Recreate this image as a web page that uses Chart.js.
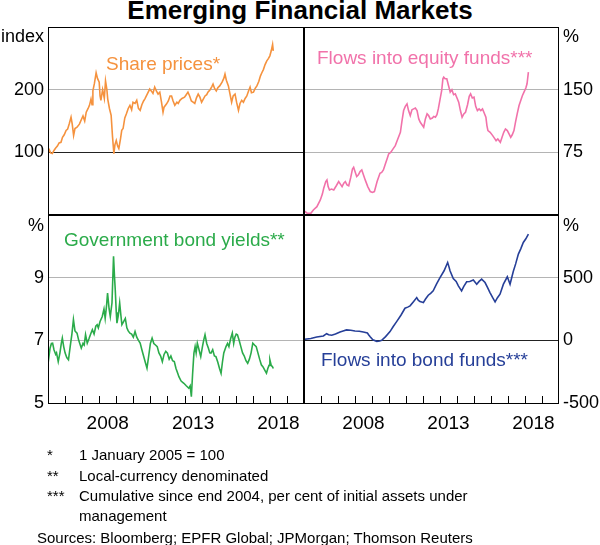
<!DOCTYPE html>
<html>
<head>
<meta charset="utf-8">
<title>Emerging Financial Markets</title>
<script src="https://cdn.jsdelivr.net/npm/chart.js@4.4.1/dist/chart.umd.min.js"></script>
<style>
  body { margin: 0; background: #fff; font-family: Arial, "Liberation Sans", sans-serif; }
  #wrap { position: relative; width: 600px; height: 545px; overflow: hidden; }
  #wrap canvas { position: absolute; left: 0; top: 0; }
  .txt { position: absolute; white-space: nowrap; line-height: 1; }
  .title { left: 0; width: 600px; text-align: center; top: -3px; font-size: 26px; font-weight: bold; }
  .unit { font-size: 18px; }
  .lab { font-size: 19px; }
  .note { font-size: 15px; }
</style>
</head>
<body>
<div id="wrap">
  <div class="txt title">Emerging Financial Markets</div>

  <canvas id="shares" width="600" height="545"></canvas>
  <canvas id="equity" width="600" height="545"></canvas>
  <canvas id="yields" width="600" height="545"></canvas>
  <canvas id="bonds" width="600" height="545"></canvas>

  <div class="txt unit" style="left:0;width:44px;text-align:right;top:27px">index</div>
  <div class="txt unit" style="left:563px;top:27px">%</div>
  <div class="txt unit" style="left:0;width:44px;text-align:right;top:216px">%</div>
  <div class="txt unit" style="left:563px;top:216px">%</div>

  <div class="txt lab" style="left:106px;top:54px;color:#f5923e">Share prices*</div>
  <div class="txt lab" style="left:317px;top:48px;color:#f172aa">Flows into equity funds***</div>
  <div class="txt lab" style="left:64px;top:230px;color:#2bab4a">Government bond yields**</div>
  <div class="txt lab" style="left:321px;top:350px;color:#263f98">Flows into bond funds***</div>

  <div class="txt note" style="left:47px;top:447px">*</div>
  <div class="txt note" style="left:79px;top:447px">1 January 2005 = 100</div>
  <div class="txt note" style="left:47px;top:468px">**</div>
  <div class="txt note" style="left:79px;top:468px">Local-currency denominated</div>
  <div class="txt note" style="left:47px;top:488px">***</div>
  <div class="txt note" style="left:79px;top:488px">Cumulative since end 2004, per cent of initial assets under</div>
  <div class="txt note" style="left:79px;top:508px">management</div>
  <div class="txt note" style="left:37px;top:530px">Sources: Bloomberg; EPFR Global; JPMorgan; Thomson Reuters</div>
</div>

<script>
// x axis: years, labels sit in the middle of the year
const xStart = 2005;
const xEnd = 2020;
const yearLabels = [2008, 2013, 2018];

// share prices, index (1 Jan 2005 = 100)
const shareYears = [2005.00, 2005.08, 2005.15, 2005.25, 2005.35, 2005.45, 2005.55, 2005.65, 2005.76, 2005.85,
  2005.95, 2006.06, 2006.15, 2006.25, 2006.35, 2006.42, 2006.50, 2006.58, 2006.70, 2006.84,
  2006.95, 2007.05, 2007.15, 2007.24, 2007.35, 2007.43, 2007.52, 2007.58, 2007.63, 2007.72,
  2007.82, 2007.90, 2008.00, 2008.05, 2008.10, 2008.20, 2008.30, 2008.37, 2008.45, 2008.50,
  2008.60, 2008.70, 2008.78, 2008.86, 2008.92, 2009.00, 2009.08, 2009.15, 2009.25, 2009.32,
  2009.40, 2009.50, 2009.60, 2009.70, 2009.80, 2009.90, 2009.98, 2010.10, 2010.20, 2010.30,
  2010.40, 2010.50, 2010.60, 2010.67, 2010.80, 2010.96, 2011.05, 2011.15, 2011.25, 2011.35,
  2011.45, 2011.55, 2011.65, 2011.74, 2011.80, 2011.94, 2012.05, 2012.15, 2012.24, 2012.33,
  2012.43, 2012.55, 2012.63, 2012.73, 2012.85, 2013.00, 2013.10, 2013.20, 2013.30, 2013.40,
  2013.50, 2013.60, 2013.70, 2013.80, 2013.90, 2014.00, 2014.10, 2014.20, 2014.30, 2014.37,
  2014.50, 2014.60, 2014.67, 2014.76, 2014.86, 2014.95, 2015.06, 2015.20, 2015.30, 2015.37,
  2015.45, 2015.57, 2015.65, 2015.76, 2015.85, 2015.96, 2016.05, 2016.16, 2016.25, 2016.35,
  2016.45, 2016.55, 2016.65, 2016.75, 2016.84, 2016.92, 2017.04, 2017.14, 2017.24, 2017.35,
  2017.45, 2017.53, 2017.62, 2017.72, 2017.82, 2017.92, 2018.00, 2018.08, 2018.16, 2018.20];
const shareIndex = [100, 104, 99, 98, 103, 107, 110, 115, 116, 124,
  128, 135, 137, 146, 156, 145, 127, 138, 140, 145,
  152, 158, 150, 164, 170, 175, 185, 176, 198, 210,
  227, 218, 212, 190, 183, 200, 186, 214, 200, 185,
  170, 159, 125, 98, 112, 119, 110, 106, 122, 135,
  138, 155, 162, 170, 175, 168, 180, 178, 183, 170,
  167, 176, 182, 185, 192, 201, 198, 194, 204, 198,
  193, 196, 180, 164, 172, 177, 182, 190, 190, 182,
  175, 180, 178, 183, 186, 188, 192, 196, 190, 182,
  180, 178, 187, 193, 188, 180, 185, 190, 192, 196,
  200, 205, 209, 202, 198, 203, 206, 212, 218, 225,
  215, 206, 195, 180, 190, 193, 180, 167, 178, 183,
  180, 186, 190, 198, 204, 195, 196, 202, 206, 213,
  222, 227, 232, 240, 246, 250, 254, 262, 272, 262];
const shareTicks = [100, 200];

// flows into equity funds, per cent
const equityYears = [2005.00, 2005.08, 2005.20, 2005.40, 2005.55, 2005.76, 2005.96, 2006.08, 2006.16, 2006.28,
  2006.35, 2006.42, 2006.50, 2006.62, 2006.75, 2006.90, 2007.04, 2007.14, 2007.24, 2007.34,
  2007.43, 2007.53, 2007.63, 2007.75, 2007.85, 2007.92, 2008.00, 2008.10, 2008.20, 2008.30,
  2008.40, 2008.50, 2008.60, 2008.75, 2008.90, 2009.02, 2009.14, 2009.30, 2009.47, 2009.57,
  2009.67, 2009.80, 2009.90, 2009.98, 2010.10, 2010.20, 2010.37, 2010.50, 2010.67, 2010.76,
  2010.86, 2010.96, 2011.06, 2011.15, 2011.25, 2011.35, 2011.45, 2011.55, 2011.65, 2011.75,
  2011.84, 2011.94, 2012.04, 2012.14, 2012.24, 2012.33, 2012.43, 2012.55, 2012.63, 2012.73,
  2012.82, 2012.90, 2013.00, 2013.10, 2013.17, 2013.22, 2013.30, 2013.40, 2013.50, 2013.60,
  2013.70, 2013.80, 2013.90, 2014.00, 2014.10, 2014.20, 2014.30, 2014.40, 2014.50, 2014.62,
  2014.72, 2014.80, 2014.90, 2015.00, 2015.10, 2015.20, 2015.30, 2015.40, 2015.50, 2015.60,
  2015.70, 2015.76, 2015.82, 2015.95, 2016.10, 2016.20, 2016.30, 2016.40, 2016.55, 2016.65,
  2016.75, 2016.85, 2016.96, 2017.06, 2017.16, 2017.25, 2017.35, 2017.45, 2017.55, 2017.65,
  2017.75, 2017.85, 2017.94, 2018.05, 2018.12, 2018.20];
const equityFlows = [3, 4, 2, 2, 6, 10, 18, 25, 32, 40,
  42, 34, 30, 31, 30, 35, 40, 37, 34, 38,
  40, 36, 35, 45, 55, 57, 52, 46, 48, 52,
  54, 48, 42, 34, 28, 27, 28, 40, 50, 51,
  54, 62, 68, 73, 75, 78, 83, 90, 99, 112,
  125, 130, 133, 125, 119, 126, 127, 128, 125, 115,
  111, 108, 105, 115, 121, 119, 115, 116, 118, 117,
  120, 127, 138, 149, 163, 165, 163, 163, 155, 147,
  150, 144, 145, 140, 135, 125, 117, 121, 123, 132,
  142, 145, 140, 141, 130, 125, 127, 125, 127, 122,
  117, 107, 101, 99, 95, 92, 89, 91, 87, 93,
  99, 103, 101, 97, 93, 96, 101, 112, 122, 131,
  137, 143, 147, 152, 157, 171];
const equityTicks = [75, 150];

// government bond yields, per cent
const yieldYears = [2005.00, 2005.06, 2005.12, 2005.20, 2005.27, 2005.35, 2005.45, 2005.50, 2005.60, 2005.70,
  2005.78, 2005.84, 2005.92, 2006.00, 2006.10, 2006.20, 2006.30, 2006.40, 2006.49, 2006.58,
  2006.70, 2006.80, 2006.95, 2007.05, 2007.12, 2007.20, 2007.30, 2007.40, 2007.50, 2007.60,
  2007.70, 2007.80, 2007.88, 2007.95, 2008.05, 2008.18, 2008.28, 2008.35, 2008.43, 2008.49,
  2008.58, 2008.65, 2008.75, 2008.84, 2008.90, 2008.94, 2009.00, 2009.04, 2009.12, 2009.20,
  2009.27, 2009.33, 2009.43, 2009.53, 2009.62, 2009.70, 2009.80, 2009.90, 2010.00, 2010.10,
  2010.20, 2010.30, 2010.40, 2010.50, 2010.60, 2010.70, 2010.80, 2010.90, 2011.00, 2011.10,
  2011.20, 2011.30, 2011.40, 2011.50, 2011.60, 2011.70, 2011.80, 2011.90, 2012.00, 2012.10,
  2012.20, 2012.30, 2012.40, 2012.50, 2012.60, 2012.67, 2012.80, 2012.96, 2013.10, 2013.25,
  2013.33, 2013.40, 2013.47, 2013.55, 2013.62, 2013.68, 2013.75, 2013.85, 2013.95, 2014.05,
  2014.12, 2014.20, 2014.30, 2014.40, 2014.48, 2014.55, 2014.65, 2014.75, 2014.84, 2014.95,
  2015.05, 2015.14, 2015.22, 2015.30, 2015.43, 2015.52, 2015.60, 2015.70, 2015.80, 2015.88,
  2015.95, 2016.03, 2016.10, 2016.20, 2016.30, 2016.40, 2016.50, 2016.60, 2016.70, 2016.80,
  2016.90, 2017.00, 2017.10, 2017.20, 2017.30, 2017.40, 2017.50, 2017.60, 2017.70, 2017.80,
  2017.88, 2017.95, 2018.00, 2018.08, 2018.16, 2018.20];
const yieldValues = [6.8, 6.5, 6.75, 6.9, 6.91, 6.7, 6.55, 6.6, 6.32, 6.6,
  6.9, 7.07, 6.8, 6.6, 6.45, 6.38, 6.8, 7.2, 7.66, 7.3,
  7.23, 7.0, 6.75, 6.9, 6.85, 7.18, 6.91, 7.05, 7.2, 7.34,
  7.2, 7.45, 7.5, 7.4, 7.6, 7.76, 8.0, 7.7, 8.1, 8.51,
  8.0, 7.76, 8.2, 9.68, 9.0, 8.62, 7.9, 7.55, 7.8, 8.19,
  7.8, 7.5, 7.6, 7.7, 7.4, 7.3, 7.23, 7.2, 7.1, 7.28,
  7.1, 7.0, 6.91, 6.7, 6.5, 6.3, 6.11, 6.5, 6.9, 7.07,
  6.9, 6.85, 6.8, 6.6, 6.5, 6.32, 6.55, 6.65, 6.59, 6.4,
  6.5, 6.35, 6.32, 6.1, 5.95, 5.84, 5.7, 5.63, 5.55, 5.47,
  5.55, 5.2, 5.9, 6.59, 6.8, 6.6, 6.91, 6.7, 6.48, 6.8,
  7.0, 7.18, 6.9, 6.75, 6.6, 6.59, 6.7, 6.5, 6.48, 6.3,
  6.1, 5.95, 6.3, 6.6, 6.8, 6.9, 6.8, 7.05, 7.23, 6.9,
  7.1, 7.2, 7.18, 7.0, 6.8, 6.6, 6.5, 6.35, 6.27, 6.4,
  6.6, 6.91, 6.85, 6.8, 6.6, 6.4, 6.22, 6.15, 6.05, 5.95,
  6.1, 6.2, 6.38, 6.2, 6.15, 6.1];
const yieldTicks = [5, 7, 9];

// flows into bond funds, per cent
const bondYears = [2005.00, 2005.06, 2005.40, 2005.75, 2006.14, 2006.33, 2006.45, 2006.63, 2006.85, 2007.12,
  2007.30, 2007.50, 2007.75, 2008.00, 2008.25, 2008.49, 2008.73, 2008.80, 2008.88, 2009.05,
  2009.28, 2009.45, 2009.57, 2009.80, 2010.06, 2010.25, 2010.45, 2010.70, 2010.94, 2011.10,
  2011.24, 2011.45, 2011.63, 2011.72, 2011.82, 2011.92, 2012.02, 2012.15, 2012.31, 2012.45,
  2012.60, 2012.80, 2013.00, 2013.24, 2013.45, 2013.52, 2013.59, 2013.78, 2013.95, 2014.08,
  2014.27, 2014.40, 2014.57, 2014.75, 2014.96, 2015.16, 2015.30, 2015.45, 2015.65, 2015.80,
  2015.94, 2016.10, 2016.24, 2016.38, 2016.53, 2016.73, 2016.96, 2017.12, 2017.31, 2017.45,
  2017.61, 2017.75, 2017.90, 2018.05, 2018.20];
const bondFlows = [0, 8, 15, 27, 35, 53, 45, 41, 50, 67,
  75, 83, 80, 75, 73, 67, 59, 45, 30, 5,
  -8, -5, 0, 30, 70, 110, 149, 200, 256, 265,
  275, 310, 341, 320, 309, 305, 301, 330, 360, 375,
  395, 450, 501, 555, 621, 590, 555, 493, 470, 435,
  395, 430, 467, 470, 481, 448, 470, 488, 461, 420,
  381, 340, 307, 340, 368, 448, 507, 448, 549, 610,
  688, 730, 781, 810, 848];
const bondTicks = [-500, 0, 500];

function toPoints(xs, ys) {
  return xs.map((x, i) => ({ x: x, y: ys[i] }));
}

// black box round each panel, short year ticks inside the lower panels
const framePlugin = {
  id: 'panelFrame',
  afterDraw(chart) {
    const a = chart.chartArea;
    const ctx = chart.ctx;
    const opt = chart.options.plugins.panelFrame;
    ctx.save();
    ctx.strokeStyle = '#000';
    ctx.lineWidth = 1;
    ctx.strokeRect(a.left + 0.5, a.top + 0.5, a.right - a.left - 1, a.bottom - a.top);
    if (opt.thickBottom) {
      ctx.lineWidth = 2;
      ctx.beginPath();
      ctx.moveTo(a.left, a.bottom);
      ctx.lineTo(a.right, a.bottom);
      ctx.stroke();
    }
    if (opt.yearTicks) {
      const xs = chart.scales.x;
      ctx.lineWidth = 1;
      ctx.beginPath();
      for (let yr = xStart + 1; yr < xEnd; yr++) {
        const px = Math.round(xs.getPixelForValue(yr)) + 0.5;
        ctx.moveTo(px, a.bottom);
        ctx.lineTo(px, a.bottom - 7);
      }
      ctx.stroke();
    }
    ctx.restore();
  }
};

function makePanel(id, cfg) {
  const bottomRow = cfg.top === 215;
  const xAxis = {
    type: 'linear',
    min: xStart,
    max: xEnd,
    display: bottomRow,
    grid: { display: false, drawTicks: false },
    border: { display: false },
    afterBuildTicks: s => {
      const t = [];
      for (let yr = xStart; yr < xEnd; yr++) t.push({ value: yr + 0.5 });
      s.ticks = t;
    },
    afterFit: s => { s.height = bottomRow ? 40 : 0; },
    ticks: {
      autoSkip: false,
      maxRotation: 0,
      padding: 9,
      color: '#000',
      font: { family: 'Arial, "Liberation Sans", sans-serif', size: 19 },
      callback: v => yearLabels.includes(Math.floor(v)) ? String(Math.floor(v)) : ''
    }
  };
  const yAxis = {
    type: 'linear',
    position: cfg.side,
    min: cfg.min,
    max: cfg.max,
    afterBuildTicks: s => {
      const t = [];
      for (let v = cfg.min; v <= cfg.max; v += cfg.step) t.push({ value: v });
      s.ticks = t;
    },
    afterFit: s => { s.width = cfg.side === 'left' ? 48 : 41; },
    border: { display: false },
    grid: {
      drawTicks: false,
      lineWidth: 1,
      color: c => {
        const v = c.tick.value;
        if (v === cfg.min || v === cfg.max) return 'rgba(0,0,0,0)';
        return v === cfg.dark ? '#222' : '#b4b4b4';
      }
    },
    ticks: {
      padding: 4,
      color: '#000',
      font: { family: 'Arial, "Liberation Sans", sans-serif', size: 18 },
      callback: v => cfg.labels.includes(v) ? String(v) : ''
    }
  };
  const left = cfg.side === 'left' ? 0 : 304;
  const right = cfg.side === 'left' ? 296 : 0;
  return new Chart(document.getElementById(id), {
    type: 'line',
    data: {
      datasets: [{
        data: toPoints(cfg.xs, cfg.ys),
        borderColor: cfg.color,
        borderWidth: 1.6,
        pointRadius: 0,
        tension: 0,
        fill: false
      }]
    },
    options: {
      responsive: false,
      animation: false,
      events: [],
      layout: { padding: { left: left, right: right, top: cfg.top, bottom: bottomRow ? 102 : 330 } },
      scales: { x: xAxis, y: yAxis },
      plugins: {
        legend: { display: false },
        tooltip: { enabled: false },
        panelFrame: { thickBottom: !bottomRow, yearTicks: bottomRow }
      }
    },
    plugins: [framePlugin]
  });
}

makePanel('shares', { side: 'left', top: 27, min: 0, max: 300, step: 100, dark: 100,
  labels: shareTicks, xs: shareYears, ys: shareIndex, color: '#f5923e' });
makePanel('equity', { side: 'right', top: 27, min: 0, max: 225, step: 75, dark: null,
  labels: equityTicks, xs: equityYears, ys: equityFlows, color: '#f172aa' });
makePanel('yields', { side: 'left', top: 215, min: 5, max: 11, step: 2, dark: null,
  labels: yieldTicks, xs: yieldYears, ys: yieldValues, color: '#2bab4a' });
makePanel('bonds', { side: 'right', top: 215, min: -500, max: 1000, step: 500, dark: 0,
  labels: bondTicks, xs: bondYears, ys: bondFlows, color: '#263f98' });
</script>
</body>
</html>
